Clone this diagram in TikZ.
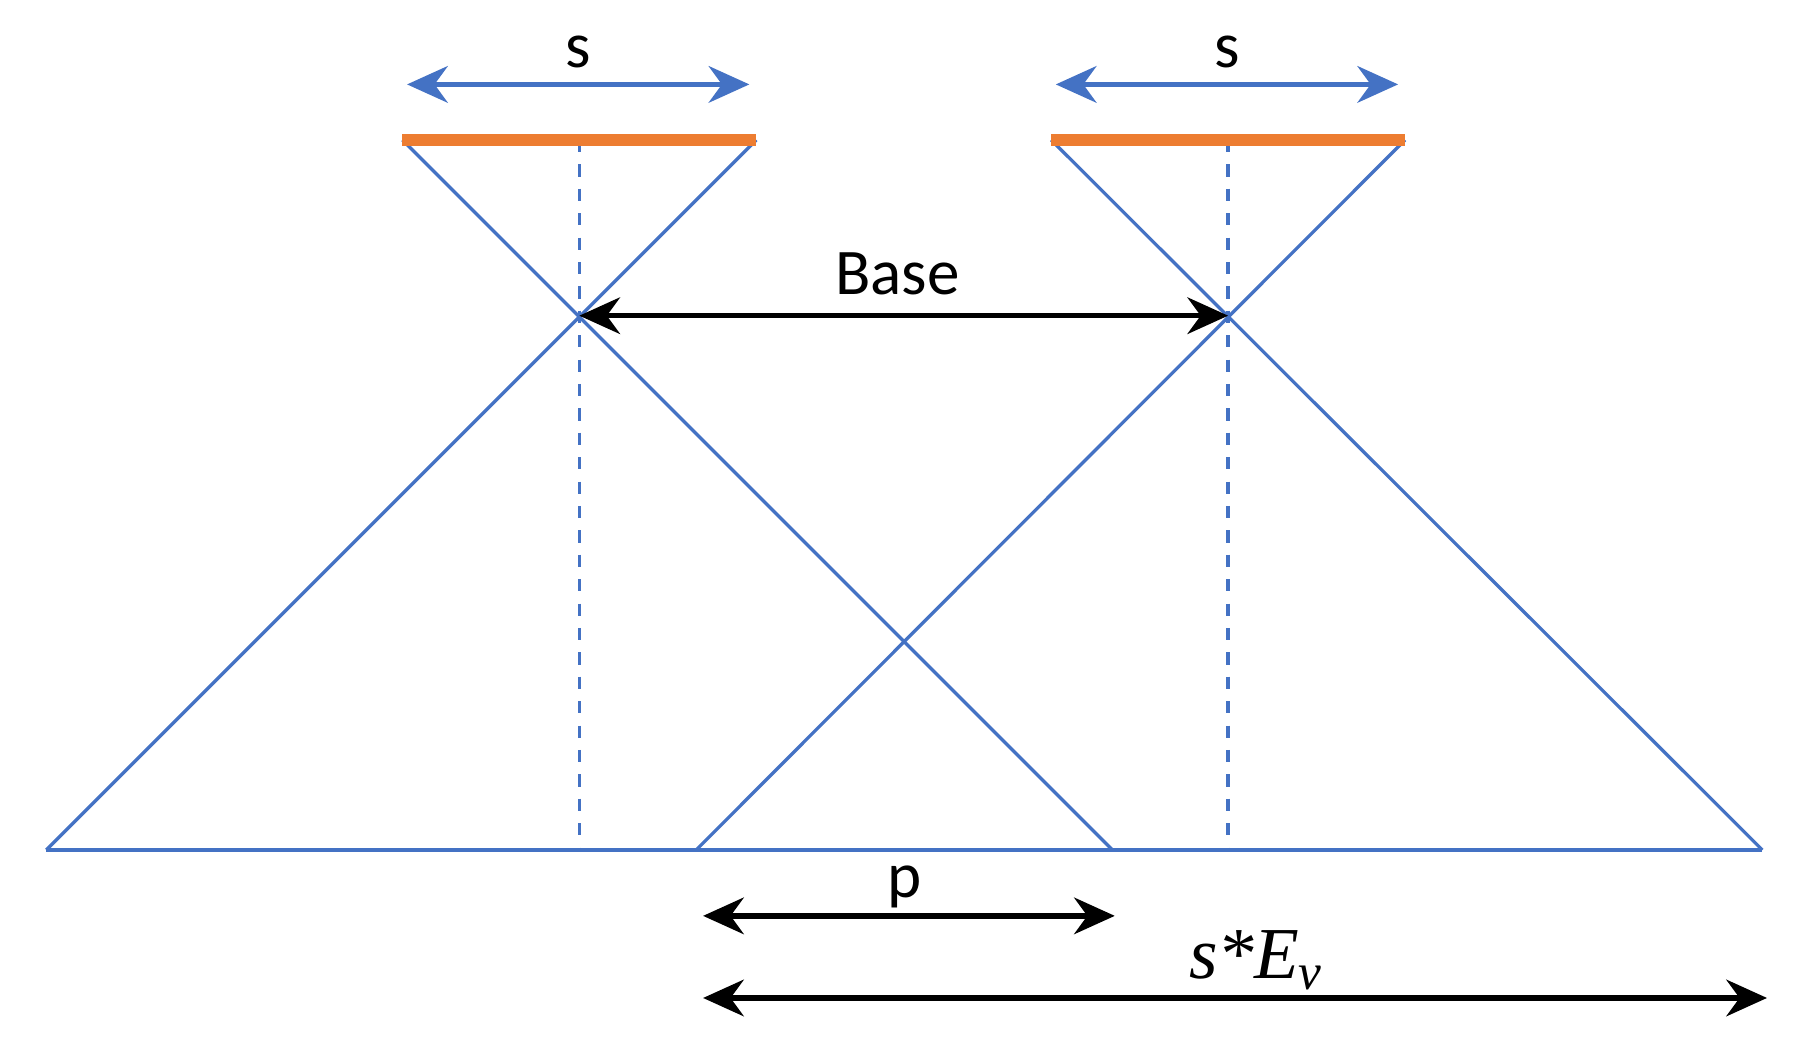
\documentclass[tikz,border=0pt]{standalone}
\usepackage{fontspec}
\setmainfont{Carlito}
\newfontfamily\tms{Liberation Serif}
\usetikzlibrary{arrows.meta}
\definecolor{lensblue}{RGB}{68,114,196}
\definecolor{sensor}{RGB}{237,125,49}
\tikzset{
  ray/.style={lensblue,line width=0.8pt},
  axis/.style={lensblue,line width=0.8pt,dashed},
  bar/.style={sensor,line width=3pt},
  dim/.style={black,line width=1.3pt,{Stealth[length=10pt,width=9pt]}-{Stealth[length=10pt,width=9pt]}},
  sdim/.style={lensblue,line width=1.3pt,{Stealth[length=10pt,width=9pt]}-{Stealth[length=10pt,width=9pt]}},
  lbl/.style={black,font=\fontsize{16}{19}\selectfont}
}
\begin{document}
\begin{tikzpicture}[x=0.01cm,y=-0.01cm]
    \useasboundingbox (0,0) rectangle (1560,913);
    % cameras
    \coordinate (cL) at (501,273); \coordinate (cR) at (1062,273);
    \coordinate (tL1) at (348,121); \coordinate (tL2) at (654,121);
    \coordinate (tR1) at (909,121); \coordinate (tR2) at (1215,121);
    \coordinate (bL1) at (40,735); \coordinate (bL2) at (962,735);
    \coordinate (bR1) at (602,735); \coordinate (bR2) at (1524,735);
    \coordinate (aL) at (501,735); \coordinate (aR) at (1062,735);
    \draw[ray] (tL1) -- (bL2); \draw[ray] (tL2) -- (bL1);
    \draw[ray] (tR1) -- (bR2); \draw[ray] (tR2) -- (bR1);
    \draw[ray] (bL1) -- (bR2);
    \draw[axis] (501,121) -- (aL);
    \draw[axis] (1062,121) -- (aR);
    \draw[bar] (tL1) -- (tL2);
    \draw[bar] (tR1) -- (tR2);
    % sensor size
    \coordinate (sL1) at (352,73); \coordinate (sL2) at (648,73);
    \coordinate (sR1) at (913,73); \coordinate (sR2) at (1209,73);
    \draw[sdim] (sL1) -- (sL2) node[midway,lbl,above=0pt] (sLlbl) {s};
    \draw[sdim] (sR1) -- (sR2) node[midway,lbl,above=0pt] (sRlbl) {s};
    % base
    \draw[dim] (cL) -- (cR) node[pos=0.49,lbl,above=1pt] (base) {Base};
    % overlap
    \coordinate (p1) at (608,792); \coordinate (p2) at (964,792);
    \draw[dim] (p1) -- (p2) node[pos=0.49,lbl,above=-2pt] (plbl) {p};
    \coordinate (e1) at (608,863); \coordinate (e2) at (1528,863);
    \draw[dim] (e1) -- (e2) node[pos=0.52,above=-2pt,font=\tms\itshape\fontsize{18}{21}\selectfont] (elbl) {s*E\textsubscript{v}};
\end{tikzpicture}
\end{document}
